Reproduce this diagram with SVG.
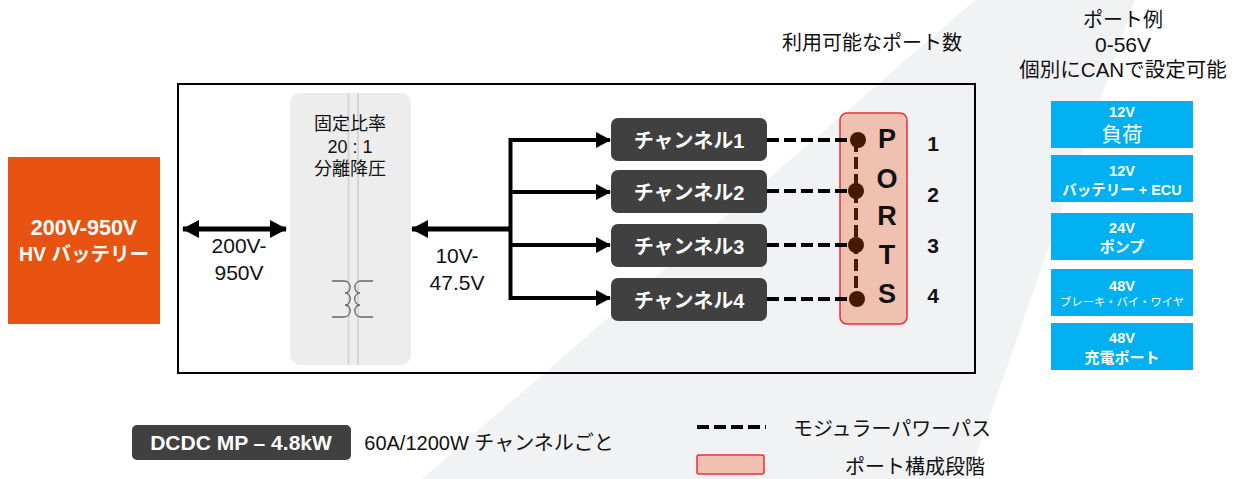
<svg xmlns="http://www.w3.org/2000/svg" width="1243" height="479" viewBox="0 0 1243 479">
<style>
text{font-family:"Liberation Sans","Noto Sans CJK JP",sans-serif;text-anchor:middle;fill:#111}
.w{fill:#fff}.b{font-weight:700}
.t20{font-size:20px}.t21{font-size:21px}.t18{font-size:18px}
.port{font-size:27px;font-weight:700}
.ch{fill:#404040}
.blue{fill:#00b0f0}
.dash{stroke:#000;stroke-width:4;stroke-dasharray:12 5;fill:none}
.bus{stroke:#000;stroke-width:5;fill:none}
.branch{stroke:#000;stroke-width:4;fill:none}
.tf{stroke:#666;stroke-width:1.300;fill:none}
.pt{fill:#441a05}
</style>
<defs>
<marker id="ah" markerUnits="userSpaceOnUse" markerWidth="18" markerHeight="18" refX="16" refY="9" orient="auto-start-reverse"><path d="M0 0L17 9L0 18Z" fill="#000"/></marker>
<marker id="ahs" markerUnits="userSpaceOnUse" markerWidth="16" markerHeight="16" refX="14" refY="8" orient="auto"><path d="M0 0L15 8L0 16Z" fill="#000"/></marker>
</defs>
<rect width="1243" height="479" fill="#fff"/>
<polygon points="975,0 1135,0 968,479 422,479" fill="#f1f2f4"/>
<g id="frame"><rect x="178" y="84" width="797" height="289" fill="none" stroke="#000" stroke-width="2"/></g>
<g id="battery"><rect x="8" y="157" width="152" height="167" fill="#e95311"/>
<text class="w b" style="font-size:21.500px" x="84" y="235">200V-950V</text><text class="w b" style="font-size:19.500px" x="84" y="261">HV バッテリー</text></g>
<g id="converter"><rect x="290" y="93" width="121" height="272" rx="10" fill="#ededed"/>
<path d="M348.500 93V365M358 93V365" stroke="#d5d5d5" stroke-width="2" fill="none"/>
<text class="t18" x="350" y="130">固定比率</text><text class="t18" x="350" y="153">20 : 1</text><text class="t18" x="350" y="175">分離降圧</text>
<path class="tf" d="M332 281H344C352 281 352 293 345 293C352 293 352 305 345 305C352 305 352 317 344 317H332M373 281H361C353 281 353 293 360 293C353 293 353 305 360 305C353 305 353 317 361 317H373"/></g>
<g id="connectors">
<path class="bus" d="M183 229H286" marker-start="url(#ah)" marker-end="url(#ah)"/>
<path class="bus" d="M510.500 229H412" marker-end="url(#ah)"/>
<path class="branch" d="M510.500 138V300"/>
<path class="branch" d="M510.500 140H610" marker-end="url(#ahs)"/>
<path class="branch" d="M510.500 192H610" marker-end="url(#ahs)"/>
<path class="branch" d="M510.500 245H610" marker-end="url(#ahs)"/>
<path class="branch" d="M510.500 298H610" marker-end="url(#ahs)"/>
</g>
<g id="ports-panel"><rect x="840" y="113" width="67" height="211" rx="7" fill="#f0c0b0" stroke="#ee2d3a" stroke-width="1.500"/>
<text class="port" x="887" y="148">P</text><text class="port" x="887" y="188">O</text><text class="port" x="887" y="225">R</text><text class="port" x="887" y="264">T</text><text class="port" x="887" y="303">S</text></g>
<g id="modular-paths">
<path class="dash" d="M767 140H850M767 191H850M767 245H850M767 299H850"/>
<path d="M856 140V298" stroke="#441a05" stroke-width="4" stroke-dasharray="12 5" fill="none"/>
<circle class="pt" cx="858" cy="140" r="8"/><circle class="pt" cx="856" cy="191" r="8"/><circle class="pt" cx="856" cy="245" r="8"/><circle class="pt" cx="857" cy="299" r="8"/>
</g>
<g id="channel1"><rect class="ch" x="611" y="118" width="156" height="43" rx="7"/><text class="w b t20" x="689" y="148">チャンネル1</text></g>
<g id="channel2"><rect class="ch" x="611" y="170" width="156" height="43" rx="7"/><text class="w b t20" x="689" y="200">チャンネル2</text></g>
<g id="channel3"><rect class="ch" x="611" y="224" width="156" height="43" rx="7"/><text class="w b t20" x="689" y="254">チャンネル3</text></g>
<g id="channel4"><rect class="ch" x="611" y="278" width="156" height="43" rx="7"/><text class="w b t20" x="689" y="308">チャンネル4</text></g>
<g id="voltage-labels">
<text class="t21" x="239" y="253">200V-</text><text class="t21" x="239" y="280">950V</text>
<text class="t21" x="457" y="263">10V-</text><text class="t21" x="457" y="290">47.5V</text>
<text class="t20" x="872" y="50">利用可能なポート数</text>
<text class="t20" x="1123" y="27">ポート例</text><text class="t21" x="1123" y="52">0-56V</text><text style="font-size:20.500px" x="1123" y="77">個別にCANで設定可能</text>
</g>
<g id="port-numbers">
<text class="b t21" x="933" y="151">1</text><text class="b t21" x="933" y="202">2</text><text class="b t21" x="933" y="253">3</text><text class="b t21" x="933" y="303">4</text>
</g>
<g id="ex1"><rect class="blue" x="1051" y="101" width="142" height="47"/><text class="w b" style="font-size:14.500px" x="1122" y="117">12V</text><text class="w" style="font-size:20.500px" x="1122" y="142">負荷</text></g>
<g id="ex2"><rect class="blue" x="1051" y="155" width="142" height="47"/><text class="w b" style="font-size:14.500px" x="1122" y="176">12V</text><text class="w b" style="font-size:14.500px" x="1122" y="195">バッテリー + ECU</text></g>
<g id="ex3"><rect class="blue" x="1051" y="213" width="142" height="47"/><text class="w b" style="font-size:14.500px" x="1122" y="233">24V</text><text class="w b" style="font-size:15px" x="1122" y="252">ポンプ</text></g>
<g id="ex4"><rect class="blue" x="1051" y="269" width="142" height="47"/><text class="w b" style="font-size:14.500px" x="1122" y="291">48V</text><text class="w" style="font-size:11.300px" x="1122" y="306">ブレーキ・バイ・ワイヤ</text></g>
<g id="ex5"><rect class="blue" x="1051" y="323" width="142" height="47"/><text class="w b" style="font-size:14.500px" x="1122" y="343">48V</text><text class="w b" style="font-size:15px" x="1122" y="363">充電ポート</text></g>
<g id="legend">
<rect class="ch" x="132" y="425" width="219" height="35" rx="5"/><text class="w b t21" x="241" y="450">DCDC MP – 4.8kW</text>
<text class="t20" x="489" y="450">60A/1200W チャンネルごと</text>
<path class="dash" d="M697 427H766"/>
<text class="t20" x="892" y="436">モジュラーパワーパス</text>
<rect x="697" y="455" width="67" height="19" rx="2" fill="#f0c0b0" stroke="#ee2d3a" stroke-width="1.500"/>
<text class="t20" x="915" y="474">ポート構成段階</text>
</g>
</svg>
